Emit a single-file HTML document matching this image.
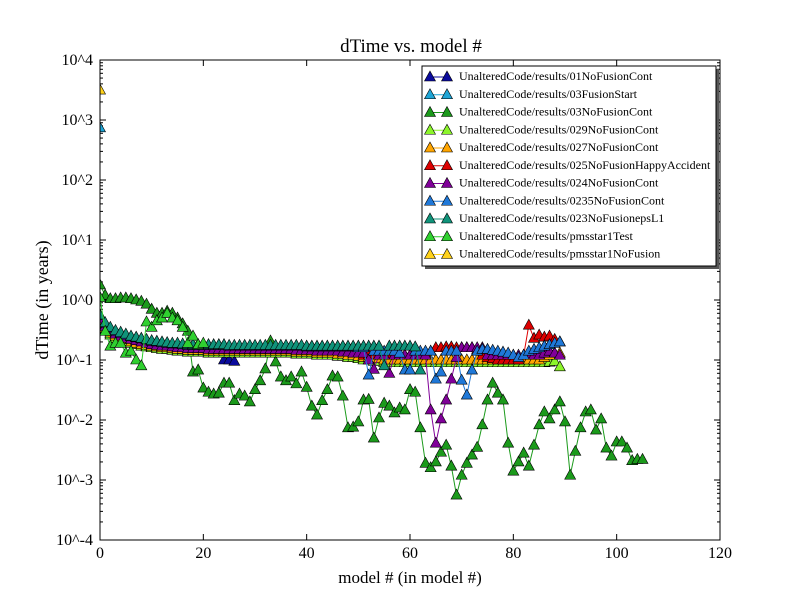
<!DOCTYPE html>
<html><head><meta charset="utf-8"><style>
html,body{margin:0;padding:0;background:#fff;}
svg{display:block;font-family:"Liberation Serif",serif;}
</style></head><body>
<svg id="chart" width="800" height="600" xmlns="http://www.w3.org/2000/svg">
<rect x="0" y="0" width="800" height="600" fill="#fff"/>
<text x="411" y="52" font-size="19" text-anchor="middle">dTime vs. model #</text>
<text x="410" y="583" font-size="17" text-anchor="middle">model # (in model #)</text>
<text x="48" y="300" font-size="18" text-anchor="middle" transform="rotate(-90 48 300)">dTime (in years)</text>
<g id="ticks"></g>
<g id="plot"></g>
<rect x="100" y="60" width="620" height="480" fill="none" stroke="#000" stroke-width="1"/>
<g id="legend"></g>
</svg>
<script>
const xTicks=[0,20,40,60,80,100,120];
const yExps=[4,3,2,1,0,-1,-2,-3,-4];
const seriesNames=["UnalteredCode/results/01NoFusionCont","UnalteredCode/results/03FusionStart","UnalteredCode/results/03NoFusionCont","UnalteredCode/results/029NoFusionCont","UnalteredCode/results/027NoFusionCont","UnalteredCode/results/025NoFusionHappyAccident","UnalteredCode/results/024NoFusionCont","UnalteredCode/results/0235NoFusionCont","UnalteredCode/results/023NoFusionepsL1","UnalteredCode/results/pmsstar1Test","UnalteredCode/results/pmsstar1NoFusion"];
const seriesColors=["#0a0a9c","#1ea5d6","#1b9a1b","#8cf52a","#ffa500","#dd0000","#800099","#1f78d8","#10937a","#2fd02f","#ffd21a"];
const s01=[0.54,0.4,0.33,0.3,0.28,0.26,0.24,0.23,0.22,0.21,0.2,0.2,0.19,0.19,0.185,0.18,0.18,0.175,0.175,0.175,0.175,0.17,0.17,0.17,0.1,0.1,0.095];
const s03FusionStart=[740];
const s03NoFusion=[1.78,1.2,1.05,1.05,1.08,1.08,1.05,1.0,0.95,0.85,0.7,0.6,0.6,0.65,0.6,0.5,0.4,0.3,0.063,0.068,0.034,0.029,0.027,0.028,0.041,0.041,0.021,0.027,0.025,0.02,0.032,0.045,0.071,0.207,0.093,0.052,0.045,0.052,0.04,0.063,0.035,0.017,0.0121,0.021,0.032,0.054,0.052,0.025,0.0074,0.0076,0.0093,0.0215,0.022,0.005,0.0108,0.019,0.017,0.0131,0.0158,0.0147,0.032,0.029,0.0074,0.0019,0.0016,0.002,0.0029,0.0038,0.0017,0.00056,0.0012,0.0019,0.0026,0.0035,0.0083,0.0215,0.041,0.028,0.0215,0.0041,0.0014,0.002,0.0028,0.0017,0.0038,0.0083,0.0136,0.0104,0.0147,0.02,0.0093,0.0012,0.003,0.0074,0.0136,0.0147,0.0068,0.0104,0.0034,0.0025,0.0043,0.0043,0.0034,0.0021,0.0022,0.0022];
const s029=[0.42,0.31,0.26,0.23,0.22,0.2,0.19,0.18,0.17,0.165,0.16,0.155,0.15,0.15,0.145,0.14,0.14,0.135,0.135,0.135,0.135,0.13,0.13,0.13,0.13,0.13,0.13,0.13,0.13,0.13,0.13,0.13,0.13,0.13,0.13,0.13,0.13,0.13,0.125,0.125,0.125,0.125,0.12,0.12,0.12,0.12,0.115,0.115,0.11,0.11,0.105,0.1,0.1,0.095,0.095,0.09,0.09,0.09,0.09,0.09,0.09,0.09,0.09,0.09,0.09,0.09,0.09,0.09,0.09,0.09,0.09,0.09,0.09,0.09,0.09,0.09,0.09,0.09,0.09,0.09,0.09,0.09,0.09,0.09,0.09,0.09,0.09,0.092,0.095,0.077];
const s027=[0.45,0.34,0.28,0.25,0.23,0.22,0.2,0.19,0.18,0.175,0.17,0.165,0.16,0.16,0.155,0.15,0.15,0.145,0.145,0.145,0.145,0.14,0.14,0.14,0.14,0.14,0.14,0.14,0.14,0.14,0.14,0.14,0.14,0.14,0.14,0.14,0.14,0.14,0.135,0.135,0.135,0.135,0.13,0.13,0.13,0.13,0.125,0.125,0.12,0.12,0.115,0.11,0.11,0.105,0.105,0.1,0.1,0.1,0.1,0.1,0.1,0.1,0.1,0.1,0.1,0.1,0.1,0.1,0.1,0.1,0.1,0.1,0.1,0.1,0.1,0.1,0.1,0.1,0.1,0.1,0.1,0.1,0.1,0.1,0.1,0.1,0.11,0.12,0.13,0.13];
const s025=[0.5,0.38,0.32,0.28,0.26,0.24,0.23,0.22,0.21,0.2,0.19,0.185,0.18,0.175,0.17,0.17,0.165,0.16,0.16,0.16,0.16,0.16,0.155,0.155,0.155,0.155,0.155,0.155,0.155,0.155,0.155,0.155,0.155,0.155,0.155,0.155,0.155,0.155,0.15,0.15,0.15,0.15,0.15,0.15,0.15,0.15,0.15,0.145,0.145,0.14,0.14,0.12,0.12,0.12,0.12,0.12,0.12,0.12,0.12,0.12,0.12,0.12,0.12,0.13,0.14,0.16,0.16,0.165,0.165,0.16,0.16,0.16,0.16,0.15,0.12,0.11,0.105,0.1,0.1,0.1,0.1,0.1,0.12,0.38,0.23,0.26,0.24,0.25,0.22,0.2];
const s024=[0.48,0.36,0.3,0.27,0.25,0.23,0.22,0.21,0.2,0.19,0.18,0.175,0.17,0.17,0.165,0.16,0.16,0.155,0.155,0.155,0.155,0.15,0.15,0.15,0.15,0.15,0.15,0.15,0.15,0.15,0.15,0.15,0.15,0.15,0.15,0.15,0.15,0.15,0.145,0.145,0.145,0.145,0.14,0.14,0.14,0.14,0.14,0.135,0.135,0.13,0.13,0.13,0.1,0.07,0.12,0.12,0.06,0.12,0.12,0.12,0.12,0.12,0.12,0.12,0.0147,0.0041,0.0104,0.0215,0.048,0.11,0.16,0.16,0.16,0.16,0.16,0.12,0.12,0.12,0.12,0.12,0.12,0.12,0.12,0.12,0.12,0.12,0.13,0.14,0.13,0.12];
const s0235=[0.55,0.41,0.34,0.3,0.28,0.26,0.245,0.235,0.225,0.215,0.205,0.2,0.195,0.19,0.185,0.185,0.18,0.175,0.175,0.175,0.175,0.175,0.175,0.175,0.175,0.17,0.17,0.17,0.17,0.17,0.17,0.17,0.17,0.17,0.17,0.17,0.17,0.17,0.17,0.17,0.165,0.165,0.165,0.165,0.165,0.165,0.165,0.165,0.165,0.165,0.16,0.16,0.056,0.14,0.14,0.14,0.14,0.14,0.13,0.068,0.068,0.14,0.14,0.14,0.14,0.048,0.063,0.14,0.14,0.14,0.046,0.026,0.068,0.14,0.15,0.15,0.145,0.14,0.135,0.13,0.12,0.11,0.12,0.14,0.15,0.16,0.17,0.18,0.19,0.2];
const s023=[0.56,0.42,0.35,0.31,0.29,0.27,0.25,0.24,0.23,0.22,0.21,0.205,0.2,0.195,0.19,0.19,0.185,0.18,0.18,0.18,0.18,0.18,0.18,0.18,0.18,0.175,0.175,0.175,0.175,0.175,0.175,0.175,0.175,0.175,0.175,0.175,0.175,0.175,0.175,0.175,0.17,0.17,0.17,0.17,0.17,0.17,0.17,0.17,0.17,0.17,0.17,0.17,0.17,0.17,0.17,0.08,0.17,0.17,0.17,0.17,0.17,0.165,0.068];
const sPmsTest=[1.1,0.3,0.17,0.19,0.19,0.13,0.14,0.1,0.08,0.43,0.35,0.45,0.5,0.6,0.5,0.45,0.35,0.19,0.25,0.18,0.19];
const sPmsNoFusion=[3160];
const allSeries=[s01,s03FusionStart,s03NoFusion,s029,s027,s025,s024,s0235,s023,sPmsTest,sPmsNoFusion];
const seriesKeys=["01","03-fusion-start","03-no-fusion","029","027","025","024","0235","023","pmsstar1-test","pmsstar1-no-fusion"];

const NS="http://www.w3.org/2000/svg";
const X0=100,X1=720,Y0=540,Y1=60;
function xs(v){return X0+(v-0)/(120-0)*(X1-X0);}
function ys(v){return Y0-(Math.log10(v)-(-4))/8*(Y0-Y1);}
function mk(tag,attrs,parent){const e=document.createElementNS(NS,tag);for(const k in attrs)e.setAttribute(k,attrs[k]);parent.appendChild(e);return e;}
const ticks=document.getElementById('ticks');
xTicks.forEach(t=>{
  const x=xs(t);
  const a=mk('line',{x1:x,x2:x,y1:Y0,y2:Y0-6,stroke:'#000'},ticks);
  
  
  const b=mk('line',{x1:x,x2:x,y1:Y1,y2:Y1+6,stroke:'#000'},ticks);
  
  
  const l=mk('text',{x:x,y:558,'font-size':16,'text-anchor':'middle'},ticks);
  l.textContent=String(t);
  
  
});
yExps.forEach(e=>{
  const y=ys(Math.pow(10,e));
  const a=mk('line',{x1:X0,x2:X0+6,y1:y,y2:y,stroke:'#000'},ticks);
  
  
  const b=mk('line',{x1:X1,x2:X1-6,y1:y,y2:y,stroke:'#000'},ticks);
  
  
  const l=mk('text',{x:93,y:y+5,'font-size':16,'text-anchor':'end'},ticks);
  l.textContent='10^'+e;
  
  
  if(e>-4){for(let m=2;m<10;m++){
    const yy=ys(m*Math.pow(10,e-1));
    const c=mk('line',{x1:X0,x2:X0+3,y1:yy,y2:yy,stroke:'#000'},ticks);
    
    
    const d=mk('line',{x1:X1,x2:X1-3,y1:yy,y2:yy,stroke:'#000'},ticks);
    
    
  }}
});
function tri(x,y,color,parent,name){
  const p=mk('path',{d:`M${x},${y-6}L${x+5.5},${y+4}L${x-5.5},${y+4}Z`,fill:color,stroke:'#000','stroke-width':0.6},parent);
  
  
}
const plot=document.getElementById('plot');
const defs=mk('clipPath',{id:'clip'},plot);mk('rect',{x:X0,y:Y1,width:X1-X0,height:Y0-Y1},defs);
allSeries.forEach((vals,i)=>{
  const g=mk('g',{'clip-path':'url(#clip)'},plot);
  
  
  const pts=vals.map((v,k)=>xs(k).toFixed(1)+','+ys(v).toFixed(1)).join(' ');
  const pl=mk('polyline',{points:pts,fill:'none',stroke:seriesColors[i],'stroke-width':1},g);
  
  
  vals.forEach((v,k)=>tri(xs(k),ys(v),seriesColors[i],g,'point-'+seriesKeys[i]));
});
const lg=document.getElementById('legend');
const sh=mk('rect',{x:425,y:69,width:294,height:200,fill:'#555'},lg);


const box=mk('rect',{x:422,y:66,width:294,height:200,fill:'#fff',stroke:'#000','stroke-width':1},lg);


seriesNames.forEach((n,i)=>{
  const y=76+i*17.75;
  const g=mk('g',{},lg);
  
  
  mk('line',{x1:430,x2:447,y1:y+1,y2:y+1,stroke:seriesColors[i],'stroke-width':1},g);
  tri(430,y+1,seriesColors[i],g,'legend-marker');
  tri(447,y+1,seriesColors[i],g,'legend-marker');
  const t=mk('text',{x:459,y:y+4,'font-size':12},g);
  t.textContent=n;
  
  
});
</script>
</body></html>
